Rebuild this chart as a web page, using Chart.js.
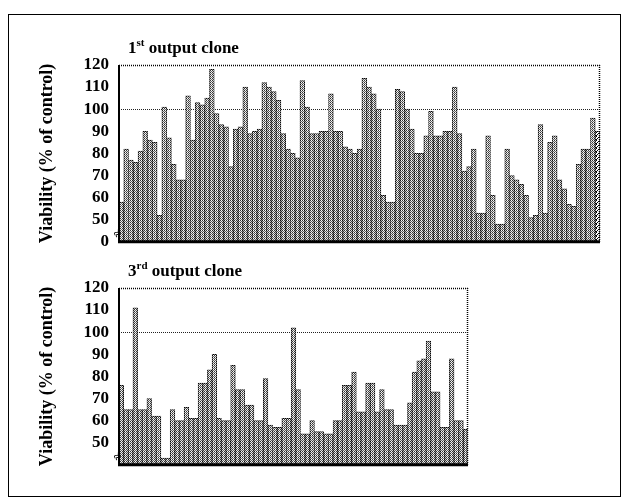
<!DOCTYPE html>
<html>
<head>
<meta charset="utf-8">
<script src="https://cdn.jsdelivr.net/npm/chart.js@4.4.0/dist/chart.umd.min.js"></script>
<style>
  body { margin: 0; background: #fff; }
  #frame { position: absolute; left: 8px; top: 14px; width: 611px; height: 481px; border: 1px solid #000; }
  canvas { position: absolute; left: 0; }
  #one { top: 0; }
  #two { top: 223px; }
</style>
</head>
<body>
<div id="frame"></div>
<canvas id="one" width="627" height="262"></canvas>
<canvas id="two" width="627" height="262"></canvas>
<script>
// viability (% of control) per clone
const firstClone = [58, 82, 77, 76, 81, 90, 86, 85, 52, 101, 87, 75, 68, 68, 106, 86, 103, 102, 105, 118,
  98, 93, 92, 74, 91, 92, 110, 89, 90, 91, 112, 110, 108, 104, 89, 82, 80, 78, 113, 101,
  89, 89, 90, 90, 107, 90, 90, 83, 82, 80, 82, 114, 110, 107, 100, 61, 58, 58, 109, 108,
  100, 91, 80, 80, 88, 99, 88, 88, 90, 90, 110, 89, 72, 74, 82, 53, 53, 88, 61, 48,
  48, 82, 70, 68, 66, 61, 51, 52, 93, 53, 85, 88, 68, 64, 57, 56, 75, 82, 82, 96, 90];
const thirdClone = [76, 65, 65, 111, 65, 65, 70, 62, 62, 43, 43, 65, 60, 60, 66, 61, 61, 77, 77, 83,
  90, 61, 60, 60, 85, 74, 74, 67, 67, 60, 60, 79, 58, 57, 57, 61, 61, 102, 74, 54,
  54, 60, 55, 55, 54, 54, 60, 60, 76, 76, 82, 64, 64, 77, 77, 64, 74, 65, 65, 58,
  58, 58, 68, 82, 87, 88, 96, 73, 73, 57, 57, 88, 60, 60, 56];

// the axis is broken: the slot under 50 stands for 0
const topTickLabels = ['0', '50', '60', '70', '80', '90', '100', '110', '120'];
const bottomTickLabels = ['', '50', '60', '70', '80', '90', '100', '110', '120'];
const controlLevel = 100;

function makePattern(w, h, draw) {
  const c = document.createElement('canvas');
  c.width = w; c.height = h;
  const g = c.getContext('2d');
  g.fillStyle = '#fff';
  g.fillRect(0, 0, w, h);
  draw(g);
  return g.createPattern(c, 'repeat');
}

const dots = makePattern(2, 2, function(g){
  g.fillStyle = '#333'; g.fillRect(0, 0, 1, 1);
  g.fillStyle = '#666'; g.fillRect(1, 1, 1, 1);
  g.fillStyle = '#ddd'; g.fillRect(0, 1, 1, 1);
});
const edge = makePattern(2, 2, function(g){
  g.fillStyle = '#000'; g.fillRect(0, 0, 1, 1); g.fillRect(1, 1, 1, 1);
  g.fillStyle = '#777'; g.fillRect(1, 0, 1, 1); g.fillRect(0, 1, 1, 1);
});
const hatch = makePattern(4, 4, function(g){
  g.fillStyle = '#000';
  g.fillRect(3, 0, 1, 1); g.fillRect(2, 1, 1, 1); g.fillRect(1, 2, 1, 1); g.fillRect(0, 3, 1, 1);
  g.fillRect(0, 0, 1, 1); g.fillRect(3, 3, 1, 1);
});

const serif = '"Liberation Serif", "Times New Roman", serif';

// box, control line, axis break and panel title
function panelPlugin(num, sup) {
  return {
    id: 'panel',
    beforeDatasetsDraw(chart) {
      const a = chart.chartArea, y = chart.scales.y, ctx = chart.ctx;
      const py = Math.round(y.getPixelForValue(controlLevel)) + 0.5;
      ctx.save();
      ctx.strokeStyle = '#222';
      ctx.lineWidth = 1;
      ctx.setLineDash([1, 1]);
      ctx.beginPath(); ctx.moveTo(a.left, py); ctx.lineTo(a.right, py); ctx.stroke();
      ctx.restore();
    },
    afterDatasetsDraw(chart) {
      const a = chart.chartArea, y = chart.scales.y, ctx = chart.ctx;
      ctx.save();
      ctx.strokeStyle = '#000';
      ctx.setLineDash([1, 1]);
      ctx.lineWidth = 1.5;
      ctx.beginPath();
      ctx.moveTo(a.left, a.top + 0.5); ctx.lineTo(a.right, a.top + 0.5);
      ctx.moveTo(a.right - 0.5, a.top); ctx.lineTo(a.right - 0.5, a.bottom);
      ctx.stroke();
      ctx.setLineDash([]);
      ctx.lineWidth = 2;
      ctx.beginPath(); ctx.moveTo(a.left, a.top); ctx.lineTo(a.left, a.bottom); ctx.stroke();
      ctx.lineWidth = 3;
      ctx.beginPath(); ctx.moveTo(a.left - 1, a.bottom); ctx.lineTo(a.right, a.bottom); ctx.stroke();

      // axis break mark
      ctx.fillStyle = '#000';
      ctx.font = 'bold 13px ' + serif;
      ctx.textAlign = 'center';
      ctx.textBaseline = 'middle';
      ctx.translate(a.left - 1, y.getPixelForValue(43.5));
      ctx.rotate(-0.7);
      ctx.fillText('\u2248', 0, 0);
      ctx.restore();

      // title with superscript
      ctx.save();
      ctx.fillStyle = '#000';
      ctx.textBaseline = 'alphabetic';
      let x = a.left + 9, by = a.top - 12;
      ctx.font = 'bold 17px ' + serif;
      ctx.fillText(num, x, by);
      x += ctx.measureText(num).width;
      ctx.font = 'bold 11px ' + serif;
      ctx.fillText(sup, x, by - 7);
      x += ctx.measureText(sup).width;
      ctx.font = 'bold 17px ' + serif;
      ctx.fillText(' output clone', x, by);
      ctx.restore();
    }
  };
}

function createchart(el, values, tickLabels, rightPad, num, sup) {
  return new Chart(document.getElementById(el), {
    type: 'bar',
    data: {
      labels: values.map(function(v, i){ return 'clone ' + (i + 1); }),
      datasets: [{
        label: 'Viability',
        data: values,
        backgroundColor: values.map(function(v, i){ return (el === 'one' && i === values.length - 1) ? hatch : dots; }),
        borderColor: edge,
        borderWidth: 1,
        barPercentage: 1,
        categoryPercentage: 1
      }]
    },
    options: {
      responsive: false,
      animation: false,
      devicePixelRatio: 1,
      layout: { padding: { left: 0, right: rightPad, top: 65, bottom: 15 } },
      plugins: { legend: { display: false }, tooltip: { enabled: false } },
      scales: {
        x: { display: false },
        y: {
          min: 40,
          max: 120,
          afterFit: function(scale){ scale.width = 119; },
          ticks: {
            stepSize: 10,
            autoSkip: false,
            padding: 10,
            color: '#000',
            font: { family: serif, size: 17, weight: 'bold' },
            callback: function(v, i){ return tickLabels[i]; }
          },
          grid: { display: false, drawTicks: false },
          border: { display: false },
          title: {
            display: true,
            text: 'Viability (% of control)',
            color: '#000',
            font: { family: serif, size: 18, weight: 'bold' },
            padding: { top: 37, bottom: 0 }
          }
        }
      }
    },
    plugins: [panelPlugin(num, sup)]
  });
}

createchart('one', firstClone, topTickLabels, 27, '1', 'st');
createchart('two', thirdClone, bottomTickLabels, 159, '3', 'rd');
</script>
</body>
</html>
